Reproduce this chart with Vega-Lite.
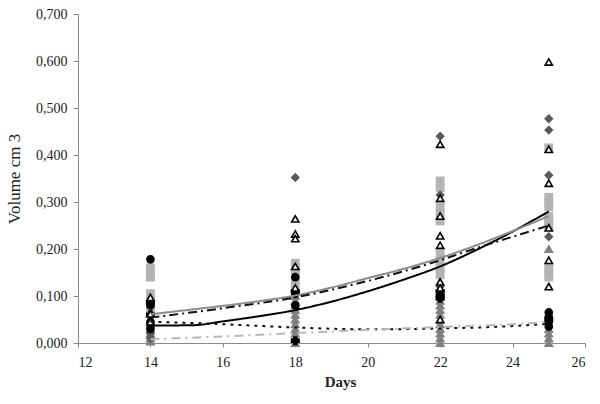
{
  "$schema": "https://vega.github.io/schema/vega-lite/v6.json",
  "width": 507,
  "height": 329,
  "autosize": {"type": "none"},
  "padding": {"left": 78, "top": 14, "right": 15, "bottom": 61},
  "background": "white",
  "config": {
    "locale": {"number": {"decimal": ",", "thousands": ".", "grouping": [3], "currency": ["", ""]}},
    "view": {"stroke": null},
    "axis": {
      "grid": false,
      "domainColor": "#8a8a8a",
      "tickColor": "#8a8a8a",
      "labelFont": "Liberation Serif",
      "labelFontSize": 14,
      "labelColor": "#222222",
      "titleFont": "Liberation Serif",
      "titleColor": "#222222"
    }
  },
  "datasets": {
    "pts": [
      {"day": 14, "v": 0.05, "s": "E"}, {"day": 14, "v": 0.04, "s": "E"}, {"day": 14, "v": 0.03, "s": "E"}, {"day": 14, "v": 0.02, "s": "E"}, {"day": 14, "v": 0.01, "s": "E"}, {"day": 14, "v": 0.003, "s": "E"},
      {"day": 18, "v": 0.1, "s": "E"}, {"day": 18, "v": 0.09, "s": "E"}, {"day": 18, "v": 0.08, "s": "E"}, {"day": 18, "v": 0.07, "s": "E"}, {"day": 18, "v": 0.06, "s": "E"}, {"day": 18, "v": 0.05, "s": "E"}, {"day": 18, "v": 0.04, "s": "E"}, {"day": 18, "v": 0.03, "s": "E"}, {"day": 18, "v": 0.02, "s": "E"}, {"day": 18, "v": 0.01, "s": "E"}, {"day": 18, "v": 0.0, "s": "E"},
      {"day": 22, "v": 0.09, "s": "E"}, {"day": 22, "v": 0.08, "s": "E"}, {"day": 22, "v": 0.07, "s": "E"}, {"day": 22, "v": 0.06, "s": "E"}, {"day": 22, "v": 0.05, "s": "E"}, {"day": 22, "v": 0.04, "s": "E"}, {"day": 22, "v": 0.03, "s": "E"}, {"day": 22, "v": 0.02, "s": "E"}, {"day": 22, "v": 0.01, "s": "E"}, {"day": 22, "v": 0.0, "s": "E"},
      {"day": 25, "v": 0.2, "s": "E"}, {"day": 25, "v": 0.03, "s": "E"}, {"day": 25, "v": 0.02, "s": "E"}, {"day": 25, "v": 0.01, "s": "E"}, {"day": 25, "v": 0.0, "s": "E"},
      {"day": 14, "v": 0.16, "s": "C"}, {"day": 14, "v": 0.15, "s": "C"}, {"day": 14, "v": 0.14, "s": "C"}, {"day": 14, "v": 0.105, "s": "C"}, {"day": 14, "v": 0.095, "s": "C"}, {"day": 14, "v": 0.085, "s": "C"}, {"day": 14, "v": 0.075, "s": "C"}, {"day": 14, "v": 0.065, "s": "C"},
      {"day": 18, "v": 0.17, "s": "C"}, {"day": 18, "v": 0.16, "s": "C"}, {"day": 18, "v": 0.15, "s": "C"}, {"day": 18, "v": 0.14, "s": "C"}, {"day": 18, "v": 0.125, "s": "C"},
      {"day": 22, "v": 0.345, "s": "C"}, {"day": 22, "v": 0.33, "s": "C"}, {"day": 22, "v": 0.29, "s": "C"}, {"day": 22, "v": 0.275, "s": "C"}, {"day": 22, "v": 0.26, "s": "C"}, {"day": 22, "v": 0.19, "s": "C"}, {"day": 22, "v": 0.175, "s": "C"}, {"day": 22, "v": 0.16, "s": "C"}, {"day": 22, "v": 0.145, "s": "C"},
      {"day": 25, "v": 0.415, "s": "C"}, {"day": 25, "v": 0.31, "s": "C"}, {"day": 25, "v": 0.3, "s": "C"}, {"day": 25, "v": 0.29, "s": "C"}, {"day": 25, "v": 0.27, "s": "C"}, {"day": 25, "v": 0.26, "s": "C"}, {"day": 25, "v": 0.25, "s": "C"}, {"day": 25, "v": 0.16, "s": "C"}, {"day": 25, "v": 0.15, "s": "C"}, {"day": 25, "v": 0.14, "s": "C"},
      {"day": 14, "v": 0.02, "s": "B"}, {"day": 14, "v": 0.01, "s": "B"},
      {"day": 18, "v": 0.352, "s": "B"},
      {"day": 22, "v": 0.44, "s": "B"}, {"day": 22, "v": 0.315, "s": "B"}, {"day": 22, "v": 0.12, "s": "B"},
      {"day": 25, "v": 0.477, "s": "B"}, {"day": 25, "v": 0.453, "s": "B"}, {"day": 25, "v": 0.357, "s": "B"}, {"day": 25, "v": 0.226, "s": "B"},
      {"day": 14, "v": 0.178, "s": "A"}, {"day": 14, "v": 0.08, "s": "A"}, {"day": 14, "v": 0.045, "s": "A"}, {"day": 14, "v": 0.03, "s": "A"},
      {"day": 18, "v": 0.14, "s": "A"}, {"day": 18, "v": 0.105, "s": "A"}, {"day": 18, "v": 0.08, "s": "A"},
      {"day": 22, "v": 0.105, "s": "A"}, {"day": 22, "v": 0.1, "s": "A"},
      {"day": 25, "v": 0.065, "s": "A"}, {"day": 25, "v": 0.055, "s": "A"}, {"day": 25, "v": 0.045, "s": "A"}, {"day": 25, "v": 0.035, "s": "A"},
      {"day": 14, "v": 0.085, "s": "F"}, {"day": 14, "v": 0.06, "s": "F"},
      {"day": 18, "v": 0.11, "s": "F"}, {"day": 18, "v": 0.005, "s": "F"},
      {"day": 22, "v": 0.11, "s": "F"}, {"day": 22, "v": 0.1, "s": "F"}, {"day": 22, "v": 0.095, "s": "F"},
      {"day": 25, "v": 0.05, "s": "F"},
      {"day": 14, "v": 0.097, "s": "D"}, {"day": 14, "v": 0.062, "s": "D"}, {"day": 14, "v": 0.045, "s": "D"},
      {"day": 18, "v": 0.264, "s": "D"}, {"day": 18, "v": 0.232, "s": "D"}, {"day": 18, "v": 0.222, "s": "D"}, {"day": 18, "v": 0.163, "s": "D"}, {"day": 18, "v": 0.117, "s": "D"},
      {"day": 22, "v": 0.423, "s": "D"}, {"day": 22, "v": 0.308, "s": "D"}, {"day": 22, "v": 0.27, "s": "D"}, {"day": 22, "v": 0.228, "s": "D"}, {"day": 22, "v": 0.208, "s": "D"}, {"day": 22, "v": 0.13, "s": "D"}, {"day": 22, "v": 0.117, "s": "D"}, {"day": 22, "v": 0.05, "s": "D"},
      {"day": 25, "v": 0.598, "s": "D"}, {"day": 25, "v": 0.412, "s": "D"}, {"day": 25, "v": 0.34, "s": "D"}, {"day": 25, "v": 0.245, "s": "D"}, {"day": 25, "v": 0.176, "s": "D"}, {"day": 25, "v": 0.12, "s": "D"}
    ],
    "lines": [
      {"day": 14, "v": 0.037, "t": "L1"}, {"day": 15.2, "v": 0.038, "t": "L1"}, {"day": 16, "v": 0.046, "t": "L1"}, {"day": 17, "v": 0.057, "t": "L1"}, {"day": 18, "v": 0.07, "t": "L1"}, {"day": 19, "v": 0.088, "t": "L1"}, {"day": 20, "v": 0.11, "t": "L1"}, {"day": 21, "v": 0.135, "t": "L1"}, {"day": 22, "v": 0.163, "t": "L1"}, {"day": 23, "v": 0.198, "t": "L1"}, {"day": 24, "v": 0.237, "t": "L1"}, {"day": 25, "v": 0.28, "t": "L1"},
      {"day": 14, "v": 0.061, "t": "L2"}, {"day": 15, "v": 0.07, "t": "L2"}, {"day": 16, "v": 0.079, "t": "L2"}, {"day": 17, "v": 0.089, "t": "L2"}, {"day": 18, "v": 0.101, "t": "L2"}, {"day": 19, "v": 0.118, "t": "L2"}, {"day": 20, "v": 0.138, "t": "L2"}, {"day": 21, "v": 0.158, "t": "L2"}, {"day": 22, "v": 0.181, "t": "L2"}, {"day": 23, "v": 0.208, "t": "L2"}, {"day": 24, "v": 0.238, "t": "L2"}, {"day": 25, "v": 0.27, "t": "L2"},
      {"day": 14, "v": 0.054, "t": "L3"}, {"day": 16, "v": 0.074, "t": "L3"}, {"day": 18, "v": 0.097, "t": "L3"}, {"day": 20, "v": 0.132, "t": "L3"}, {"day": 22, "v": 0.176, "t": "L3"}, {"day": 23, "v": 0.202, "t": "L3"}, {"day": 24, "v": 0.226, "t": "L3"}, {"day": 25, "v": 0.25, "t": "L3"},
      {"day": 14, "v": 0.045, "t": "L4"}, {"day": 15, "v": 0.043, "t": "L4"}, {"day": 16, "v": 0.04, "t": "L4"}, {"day": 18, "v": 0.033, "t": "L4"}, {"day": 20, "v": 0.029, "t": "L4"}, {"day": 22, "v": 0.031, "t": "L4"}, {"day": 24, "v": 0.036, "t": "L4"}, {"day": 25, "v": 0.041, "t": "L4"},
      {"day": 14, "v": 0.008, "t": "L5"}, {"day": 16, "v": 0.014, "t": "L5"}, {"day": 18, "v": 0.021, "t": "L5"}, {"day": 20, "v": 0.028, "t": "L5"}, {"day": 22, "v": 0.034, "t": "L5"}, {"day": 24, "v": 0.04, "t": "L5"}, {"day": 25, "v": 0.045, "t": "L5"}
    ]
  },
  "layer": [
    {
      "data": {"name": "pts"},
      "mark": {"type": "point", "filled": true, "strokeWidth": 1.6, "opacity": 1},
      "encoding": {
        "x": {
          "field": "day", "type": "quantitative",
          "scale": {"domain": [12, 26], "nice": false, "zero": false},
          "axis": {"values": [12, 14, 16, 18, 20, 22, 24, 26], "title": "Days", "titleFontWeight": "bold", "titleFontSize": 15, "titlePadding": 5, "tickSize": 4, "labelPadding": 8, "titleX": 262}
        },
        "y": {
          "field": "v", "type": "quantitative",
          "scale": {"domain": [0, 0.7], "nice": false},
          "axis": {"values": [0, 0.1, 0.2, 0.3, 0.4, 0.5, 0.6, 0.7], "format": ".3f", "title": "Volume cm 3", "titleFontWeight": "normal", "titleFontSize": 17, "titlePadding": 12, "tickSize": 5, "labelPadding": 6}
        },
        "shape": {"field": "s", "type": "nominal", "legend": null,
          "scale": {"domain": ["A", "B", "C", "D", "E", "F"], "range": ["circle", "diamond", "square", "triangle-up", "triangle-up", "cross"]}},
        "fill": {"field": "s", "type": "nominal", "legend": null,
          "scale": {"domain": ["A", "B", "C", "D", "E", "F"], "range": ["#000000", "#5a5a5a", "#b4b4b4", "#ffffff", "#808080", "#000000"]}},
        "stroke": {"field": "s", "type": "nominal", "legend": null,
          "scale": {"domain": ["A", "B", "C", "D", "E", "F"], "range": ["#000000", "#5a5a5a", "#b4b4b4", "#000000", "#808080", "#000000"]}},
        "size": {"field": "s", "type": "nominal", "legend": null,
          "scale": {"domain": ["A", "B", "C", "D", "E", "F"], "range": [50, 55, 64, 80, 70, 30]}}
      }
    },
    {
      "data": {"name": "lines"},
      "mark": {"type": "line", "interpolate": "monotone", "strokeWidth": 2},
      "encoding": {
        "x": {"field": "day", "type": "quantitative"},
        "y": {"field": "v", "type": "quantitative"},
        "detail": {"field": "t", "type": "nominal"},
        "color": {"field": "t", "type": "nominal", "legend": null,
          "scale": {"domain": ["L1", "L2", "L3", "L4", "L5"], "range": ["#000000", "#8c8c8c", "#111111", "#111111", "#b8b8b8"]}},
        "strokeDash": {"field": "t", "type": "nominal", "legend": null,
          "scale": {"domain": ["L1", "L2", "L3", "L4", "L5"], "range": [[1, 0], [1, 0], [9, 4, 2, 4], [3, 5], [9, 5, 2, 5]]}}
      }
    }
  ]
}
